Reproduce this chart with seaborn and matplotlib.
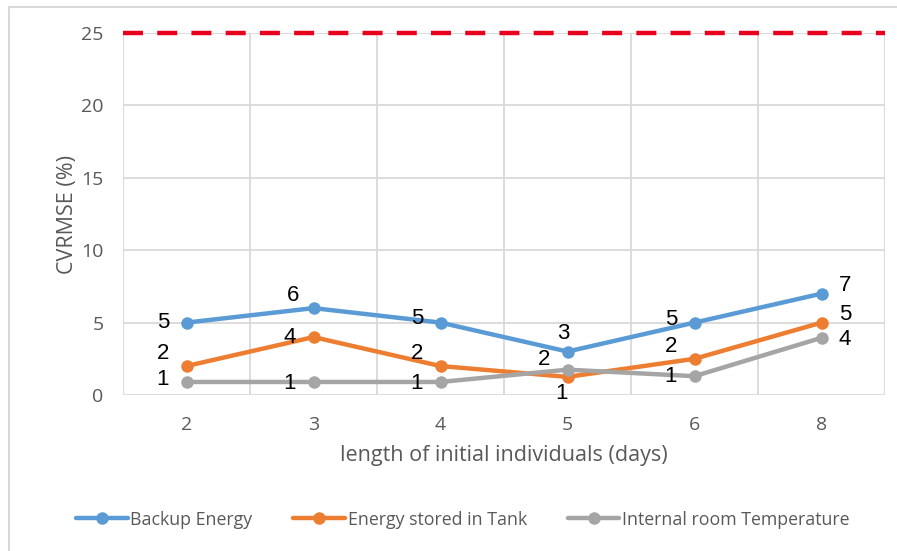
import numpy as np
import pandas as pd
import matplotlib
matplotlib.use("Agg")
import matplotlib.pyplot as plt
import seaborn as sns
from matplotlib.patches import Rectangle
from matplotlib.ticker import FixedLocator

categories = ["2", "3", "4", "5", "6", "8"]
backup_energy = [5.0, 6.0, 5.0, 3.0, 5.0, 7.0]
energy_tank = [2.0, 4.0, 2.0, 1.25, 2.5, 5.0]
room_temp = [0.9, 0.9, 0.9, 1.75, 1.3, 3.95]
series_names = ["Backup Energy", "Energy stored in Tank", "Internal room Temperature"]
threshold = 25

colors = ["#5B9BD5", "#ED7D31", "#A5A5A5"]
# label placement per point (dx, dy in points)
label_offsets = [
    [(-17, 0), (-15, 9), (-17, 3), (-3, 13), (-17, 2), (17, 6)],
    [(-17, 9), (-17, 0), (-17, 9), (-4, -12), (-17, 9), (17, 6)],
    [(-17, 2), (-17, -1), (-17, -1), (-17, 7), (-17, 0), (17, -1)],
]

df = pd.DataFrame({
    "x": categories * 3,
    "value": backup_energy + energy_tank + room_temp,
    "series": sum([[n] * len(categories) for n in series_names], []),
})

sns.set_theme(style="white")
plt.rcParams["font.family"] = ["Open Sans", "DejaVu Sans"]

fig = plt.figure(figsize=(8.97, 5.51), dpi=100)
ax = fig.add_axes([123 / 897, 1 - 395 / 551, (885 - 123) / 897, (395 - 33) / 551])

# outer chart border
fig.patches.append(Rectangle((9 / 897, -0.05), 1.2, (551 - 7) / 551 + 0.05,
                             transform=fig.transFigure, fill=False,
                             edgecolor="#D9D9D9", linewidth=1.5, zorder=0))

sns.lineplot(data=df, x="x", y="value", hue="series", palette=colors,
             sort=False, marker="o", markersize=9, markeredgewidth=0,
             linewidth=3.2, ax=ax, legend=True)

ax.axhline(threshold, color="#E8001C", linewidth=3.2, linestyle=(0, (4.5, 3.2)),
           zorder=5, clip_on=False)

ax.set_xlim(-0.5, len(categories) - 0.5)
ax.set_ylim(0, 25)
ax.set_yticks([0, 5, 10, 15, 20, 25])
ax.xaxis.set_minor_locator(FixedLocator(np.arange(-0.5, len(categories), 1.0)))
ax.grid(True, axis="y", which="major", color="#D9D9D9", linewidth=1.3)
ax.grid(True, axis="x", which="minor", color="#D9D9D9", linewidth=1.3)
ax.grid(False, axis="x", which="major")
ax.tick_params(axis="both", which="both", length=0, labelsize=14, labelcolor="#595959")
ax.tick_params(axis="x", pad=15)
ax.tick_params(axis="y", pad=14)
for s in ax.spines.values():
    s.set_visible(False)
ax.set_axisbelow(True)

ax.set_xlabel("length of initial individuals (days)", fontsize=15.5, color="#595959", labelpad=8)
ax.set_ylabel("CVRMSE (%)", fontsize=15.5, color="#595959", labelpad=2)

for vals, offs in zip([backup_energy, energy_tank, room_temp], label_offsets):
    for i, (v, o) in enumerate(zip(vals, offs)):
        ax.annotate(f"{v:.0f}", (i, v), xytext=o, textcoords="offset points",
                    ha="center", va="center", fontsize=16, color="black",
                    family=["Liberation Sans", "DejaVu Sans"], zorder=6)

handles, labels = ax.get_legend_handles_labels()
ax.get_legend().remove()
fig.legend(handles, labels, loc="center", bbox_to_anchor=(0.516, 0.057), ncol=3,
           frameon=False, fontsize=12.8, handlelength=2.9, handletextpad=0.15,
           columnspacing=2.3, labelcolor="#595959")

fig.savefig("out.png", dpi=100)
